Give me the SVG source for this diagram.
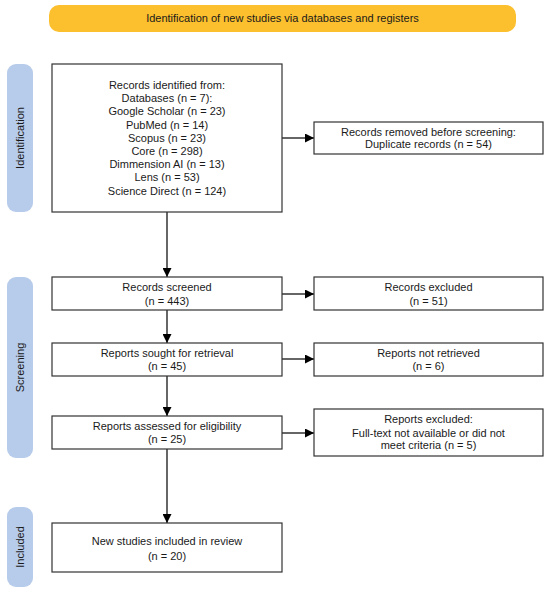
<svg xmlns="http://www.w3.org/2000/svg" width="550" height="596" viewBox="0 0 550 596">
<defs>
<style>
.box{fill:#fff;stroke:#333;stroke-width:1.2}
.lane{fill:#b7cbea}
.t{font-family:"Liberation Sans",Arial,sans-serif;font-size:11px;fill:#1a1a1a;text-anchor:middle}
.lt{font-family:"Liberation Sans",Arial,sans-serif;font-size:11px;fill:#1a1a1a;text-anchor:middle}
.c{stroke:#000;stroke-width:1.2;fill:none}
</style>
<marker id="ah" viewBox="0 0 10 10" refX="10" refY="5" markerWidth="9" markerHeight="9" markerUnits="userSpaceOnUse" orient="auto">
<path d="M0,0 L10,5 L0,10 z" fill="#000"/>
</marker>
</defs>
<rect width="550" height="596" fill="#fff"/>
<g id="banner">
<rect x="49" y="5" width="467" height="27" rx="10" fill="#fcbf2d"/>
<text class="t" x="282.5" y="22">Identification of new studies via databases and registers</text>
</g>
<g id="lane-identification">
<rect class="lane" x="7" y="64" width="26" height="148" rx="9"/>
<text class="lt" transform="translate(24,138) rotate(-90)">Identification</text>
</g>
<g id="lane-screening">
<rect class="lane" x="7" y="277" width="26" height="181" rx="9"/>
<text class="lt" transform="translate(24,367.5) rotate(-90)">Screening</text>
</g>
<g id="lane-included">
<rect class="lane" x="7" y="507" width="26" height="80" rx="9"/>
<text class="lt" transform="translate(24,547) rotate(-90)">Included</text>
</g>
<g id="connectors">
<line class="c" x1="167" y1="212" x2="167" y2="277" marker-end="url(#ah)"/>
<line class="c" x1="167" y1="310" x2="167" y2="343" marker-end="url(#ah)"/>
<line class="c" x1="167" y1="376" x2="167" y2="416" marker-end="url(#ah)"/>
<line class="c" x1="167" y1="449" x2="167" y2="523" marker-end="url(#ah)"/>
<line class="c" x1="282" y1="138" x2="314" y2="138" marker-end="url(#ah)"/>
<line class="c" x1="282" y1="294" x2="314" y2="294" marker-end="url(#ah)"/>
<line class="c" x1="282" y1="359" x2="314" y2="359" marker-end="url(#ah)"/>
<line class="c" x1="282" y1="433" x2="314" y2="433" marker-end="url(#ah)"/>
</g>
<g id="records-identified">
<rect class="box" x="52" y="64" width="230" height="148"/>
<text class="t" x="167" y="89">Records identified from:</text>
<text class="t" x="167" y="102.2">Databases (n = 7):</text>
<text class="t" x="167" y="115.4">Google Scholar (n = 23)</text>
<text class="t" x="167" y="128.6">PubMed (n = 14)</text>
<text class="t" x="167" y="141.8">Scopus (n = 23)</text>
<text class="t" x="167" y="155">Core (n = 298)</text>
<text class="t" x="167" y="168.2">Dimmension AI (n = 13)</text>
<text class="t" x="167" y="181.4">Lens (n = 53)</text>
<text class="t" x="167" y="194.6">Science Direct (n = 124)</text>
</g>
<g id="records-removed">
<rect class="box" x="314" y="122" width="229" height="32"/>
<text class="t" x="428.5" y="136">Records removed before screening:</text>
<text class="t" x="428.5" y="148">Duplicate records (n = 54)</text>
</g>
<g id="records-screened">
<rect class="box" x="52" y="277" width="230" height="33"/>
<text class="t" x="167" y="291">Records screened</text>
<text class="t" x="167" y="305">(n = 443)</text>
</g>
<g id="records-excluded">
<rect class="box" x="314" y="277" width="229" height="33"/>
<text class="t" x="428.5" y="291">Records excluded</text>
<text class="t" x="428.5" y="305">(n = 51)</text>
</g>
<g id="reports-sought">
<rect class="box" x="52" y="343" width="230" height="33"/>
<text class="t" x="167" y="357">Reports sought for retrieval</text>
<text class="t" x="167" y="370">(n = 45)</text>
</g>
<g id="reports-not-retrieved">
<rect class="box" x="314" y="343" width="229" height="33"/>
<text class="t" x="428.5" y="357">Reports not retrieved</text>
<text class="t" x="428.5" y="370">(n = 6)</text>
</g>
<g id="reports-assessed">
<rect class="box" x="52" y="416" width="230" height="33"/>
<text class="t" x="167" y="430">Reports assessed for eligibility</text>
<text class="t" x="167" y="443">(n = 25)</text>
</g>
<g id="reports-excluded">
<rect class="box" x="314" y="409" width="229" height="47"/>
<text class="t" x="428.5" y="423">Reports excluded:</text>
<text class="t" x="428.5" y="437">Full-text not available or did not</text>
<text class="t" x="428.5" y="449">meet criteria (n = 5)</text>
</g>
<g id="included">
<rect class="box" x="52" y="523" width="230" height="49"/>
<text class="t" x="167" y="545">New studies included in review</text>
<text class="t" x="167" y="560">(n = 20)</text>
</g>
</svg>
